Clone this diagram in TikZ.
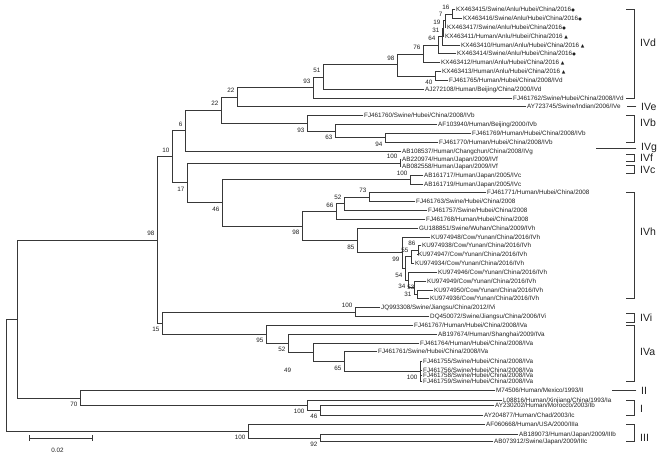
\documentclass[tikz,border=0pt]{standalone}
\usepackage{fontspec}
\setmainfont{Liberation Sans}
\newfontfamily\symfont{DejaVu Sans}
\newcommand\mkcirc{\kern0.4pt{\symfont\fontsize{4}{4}\selectfont ●}}
\newcommand\mktri{\kern1.6pt{\symfont\fontsize{4.6}{4.6}\selectfont ▲}}
\begin{document}
\begin{tikzpicture}[x=1pt,y=-1.064pt,
  br/.style={draw=black!78, line width=0.6pt, line cap=rect},
  leaf/.style={anchor=west, inner xsep=1pt, inner ysep=0pt, text height=4.5pt, text depth=0pt,
    font=\fontsize{6.3}{7}\selectfont, text=black!88},
  bsbase/.style={anchor=east, inner sep=0pt, text height=4.5pt, text depth=0pt,
    font=\fontsize{6.3}{7}\selectfont, text=black!88, xshift=-2.5pt},
  bsu/.style={bsbase, yshift=6.5pt},
  bsl/.style={bsbase, yshift=-6.5pt},
  clade/.style={anchor=west, inner sep=0pt, font=\fontsize{10.5}{12}\selectfont, text=black!88},
]
\useasboundingbox (0,0) rectangle (669,438.9);

% ---------- internal nodes ----------
\coordinate (root) at (6,352.35);
\coordinate (nA) at (17,299.7);
\coordinate (nIV) at (157,225.4);
\coordinate (n10) at (172,147.2);
\coordinate (n6) at (185,122.7);
\coordinate (n22l) at (221,103.5);
\coordinate (n22u) at (237,91.2);
\coordinate (n93d) at (313,82.2);
\coordinate (n51) at (323,72.3);
\coordinate (n98d) at (397,60.9);
\coordinate (n76) at (423,50.6);
\coordinate (n64) at (438,42.5);
\coordinate (n31) at (442,34.4);
\coordinate (n19) at (443,26.6);
\coordinate (n7) at (445,19.4);
\coordinate (n16) at (452,13.15);
\coordinate (n40) at (435,71.25);
\coordinate (n93b) at (307,115.9);
\coordinate (n63) at (335,123.1);
\coordinate (n94) at (385,129.35);
\coordinate (n17) at (187,171.75);
\coordinate (nIVf) at (400,153.05);
\coordinate (n46) at (222,190.5);
\coordinate (nIVc) at (410,168.65);
\coordinate (n98h) at (302,212.3);
\coordinate (n66) at (336,198.7);
\coordinate (n52h) at (344,191.5);
\coordinate (n73) at (369,185.25);
\coordinate (n85) at (357,225.85);
\coordinate (n99) at (402,237.4);
\coordinate (n54) at (405,252.2);
\coordinate (n55) at (411,241.3);
\coordinate (n86) at (418,235.05);
\coordinate (n34) at (408,263.05);
\coordinate (n53) at (414,270.3);
\coordinate (n31h) at (417,276.55);
\coordinate (n15) at (162,303.6);
\coordinate (nIVi) at (355,293.15);
\coordinate (n95) at (266,314);
\coordinate (n52a) at (288,322.4);
\coordinate (nQ) at (313,330.95);
\coordinate (n65) at (344,339.7);
\coordinate (n100a) at (420,348.85);
\coordinate (n70) at (80,374);
\coordinate (n100I) at (307,380.8);
\coordinate (n46I) at (320,385.5);
\coordinate (nIII) at (248,405);
\coordinate (n92) at (320,411.5);

% ---------- leaves ----------
\node[leaf] (L1) at (455,9) {KX463415/Swine/Anlu/Hubei/China/2016\mkcirc};
\node[leaf] (L2) at (462,17.3) {KX463416/Swine/Anlu/Hubei/China/2016\mkcirc};
\node[leaf] (L3) at (446,25.6) {KX463417/Swine/Anlu/Hubei/China/2016\mkcirc};
\node[leaf] (L4) at (444,33.9) {KX463411/Human/Anlu/Hubei/China/2016\mktri};
\node[leaf] (L5) at (460,42.2) {KX463410/Human/Anlu/Hubei/China/2016\mktri};
\node[leaf] (L6) at (456,50.5) {KX463414/Swine/Anlu/Hubei/China/2016\mkcirc};
\node[leaf] (L7) at (440,58.8) {KX463412/Human/Anlu/Hubei/China/2016\mktri};
\node[leaf] (L8) at (441,67.1) {KX463413/Human/Anlu/Hubei/China/2016\mktri};
\node[leaf] (L9) at (448,75.4) {FJ461765/Human/Hubei/China/2008/IVd};
\node[leaf] (L10) at (424,83.7) {AJ272108/Human/Beijing/China/2000/IVd};
\node[leaf] (L11) at (512,92) {FJ461762/Swine/Hubei/China/2008/IVd};
\node[leaf] (L12) at (526,100.3) {AY723745/Swine/Indian/2006/IVe};
\node[leaf] (L13) at (363,108.6) {FJ461760/Swine/Hubei/China/2008/IVb};
\node[leaf] (L14) at (437,116.9) {AF103940/Human/Beijing/2000/IVb};
\node[leaf] (L15) at (471,125.2) {FJ461769/Human/Hubei/China/2008/IVb};
\node[leaf] (L16) at (438,133.5) {FJ461770/Human/Hubei/China/2008/IVb};
\node[leaf] (L17) at (401,141.8) {AB108537/Human/Changchun/China/2008/IVg};
\node[leaf] (L18) at (401,150.1) {AB220974/Human/Japan/2009/IVf};
\node[leaf] (L19) at (401,156) {AB082558/Human/Japan/2009/IVf};
\node[leaf] (L20) at (423,164.5) {AB161717/Human/Japan/2005/IVc};
\node[leaf] (L21) at (423,172.8) {AB161719/Human/Japan/2005/IVc};
\node[leaf] (L22) at (486,181.1) {FJ461771/Human/Hubei/China/2008};
\node[leaf] (L23) at (415,189.4) {FJ461763/Swine/Hubei/China/2008};
\node[leaf] (L24) at (427,197.7) {FJ461757/Swine/Hubei/China/2008};
\node[leaf] (L25) at (425,206) {FJ461768/Human/Hubei/China/2008};
\node[leaf] (L26) at (418,214.3) {GU188851/Swine/Wuhan/China/2009/IVh};
\node[leaf] (L27) at (430,222.6) {KU974948/Cow/Yunan/China/2016/IVh};
\node[leaf] (L28) at (421,230.9) {KU974938/Cow/Yunan/China/2016/IVh};
\node[leaf] (L29) at (417,239.2) {KU974947/Cow/Yunan/China/2016/IVh};
\node[leaf] (L30) at (414,247.5) {KU974934/Cow/Yunan/China/2016/IVh};
\node[leaf] (L31) at (437,255.8) {KU974946/Cow/Yunan/China/2016/IVh};
\node[leaf] (L32) at (426,264.1) {KU974949/Cow/Yunan/China/2016/IVh};
\node[leaf] (L33) at (433,272.4) {KU974950/Cow/Yunan/China/2016/IVh};
\node[leaf] (L34) at (429,280.7) {KU974936/Cow/Yunan/China/2016/IVh};
\node[leaf] (L35) at (380,289) {JQ993308/Swine/Jiangsu/China/2012/IVi};
\node[leaf] (L36) at (429,297.3) {DQ450072/Swine/Jiangsu/China/2006/IVi};
\node[leaf] (L37) at (413,305.6) {FJ461767/Human/Hubei/China/2008/IVa};
\node[leaf] (L38) at (437,313.9) {AB197674/Human/Shanghai/2009/IVa};
\node[leaf] (L39) at (419,322.2) {FJ461764/Human/Hubei/China/2008/IVa};
\node[leaf] (L40) at (377,330.5) {FJ461761/Swine/Hubei/China/2008/IVa};
\node[leaf] (L41) at (422,339.5) {FJ461755/Swine/Hubei/China/2008/IVa};
\node[leaf] (L42) at (422,347.8) {FJ461756/Swine/Hubei/China/2008/IVa};
\node[leaf] (L43) at (422,353) {FJ461758/Swine/Hubei/China/2008/IVa};
\node[leaf] (L44) at (422,358.2) {FJ461759/Swine/Hubei/China/2008/IVa};
\node[leaf] (L45) at (495,367) {M74506/Human/Mexico/1993/II};
\node[leaf] (L46) at (502,376) {L08816/Human/Xinjiang/China/1993/Ia};
\node[leaf] (L47) at (494,381) {AY230202/Human/Morocco/2003/Ib};
\node[leaf] (L48) at (483,390) {AY204877/Human/Chad/2003/Ic};
\node[leaf] (L49) at (485,399) {AF060668/Human/USA/2000/IIIa};
\node[leaf] (L50) at (518,408.5) {AB189073/Human/Japan/2009/IIIb};
\node[leaf] (L51) at (493,414.5) {AB073912/Swine/Japan/2009/IIIc};

% ---------- branches between internal nodes ----------
\foreach \p/\c in {root/nA, root/nIII, nA/nIV, nA/n70, nIV/n10, nIV/n15, n10/n6, n10/n17,
  n6/n22l, n22l/n22u, n22l/n93b, n22u/n93d, n93d/n51, n51/n98d, n98d/n76, n98d/n40,
  n76/n64, n64/n31, n31/n19, n19/n7, n7/n16, n93b/n63, n63/n94, n17/nIVf, n17/n46,
  n46/nIVc, n46/n98h, n98h/n66, n98h/n85, n66/n52h, n52h/n73, n85/n99, n99/n54,
  n54/n55, n54/n34, n55/n86, n34/n53, n53/n31h, n15/nIVi, n15/n95, n95/n52a,
  n52a/nQ, nQ/n65, n65/n100a, n70/n100I, n100I/n46I, nIII/n92}
  \draw[br] (\p) |- (\c);

% ---------- branches to leaves ----------
\foreach \p/\c in {n16/L1, n16/L2, n7/L3, n19/L4, n31/L5, n64/L6, n76/L7, n40/L8, n40/L9,
  n51/L10, n93d/L11, n22u/L12, n93b/L13, n63/L14, n94/L15, n94/L16, n6/L17,
  nIVf/L18, nIVf/L19, nIVc/L20, nIVc/L21, n73/L22, n73/L23, n52h/L24, n66/L25,
  n85/L26, n99/L27, n86/L28, n86/L29, n55/L30, n34/L31, n53/L32, n31h/L33, n31h/L34,
  nIVi/L35, nIVi/L36, n95/L37, n52a/L38, nQ/L39, n65/L40, n100a/L41, n100a/L42,
  n100a/L43, n100a/L44, n70/L45, n100I/L46, n46I/L47, n46I/L48, nIII/L49, n92/L50, n92/L51}
  \draw[br] (\p) |- (\c.west);

% ---------- bootstrap values ----------
\foreach \n/\s/\v in {n16/bsu/16, n7/bsu/7, n19/bsu/19, n31/bsu/31, n64/bsu/64, n76/bsu/76,
  n98d/bsu/98, n51/bsu/51, n93d/bsu/93, n40/bsl/40, n22u/bsu/22, n22l/bsu/22, n6/bsu/6,
  n93b/bsl/93, n63/bsl/63, n94/bsl/94, n10/bsu/10, n17/bsl/17, nIVf/bsu/100, n46/bsl/46,
  nIVc/bsu/100, n73/bsu/73, n52h/bsu/52, n66/bsu/66, n98h/bsl/98, n85/bsl/85, n86/bsu/86,
  n55/bsu/55, n99/bsl/99, n54/bsl/54, n34/bsl/34, n53/bsl/31, n31h/bsu/53, nIV/bsu/98,
  n15/bsl/15, nIVi/bsu/100, n95/bsl/95, n52a/bsl/52, n65/bsl/65, n100a/bsl/100,
  n70/bsl/70, n100I/bsl/100, n46I/bsl/46, nIII/bsl/100, n92/bsl/92}
  \node[\s] (b-\n) at (\n) {\v};
\node[bsbase, anchor=center, xshift=0pt] (b-nQ) at (290,348) {49};

% ---------- clade brackets ----------
\foreach \t/\b/\m/\lab in {9/92/40.5/IVd, 108.6/133.5/115/IVb, 145/151.5/148.5/IVf,
  155.5/163/159.5/IVc, 181.1/280.7/218/IVh, 294.5/303/299/IVi, 305.6/358.2/331/IVa,
  376/390/384/I, 399/414.5/412/III} {
  \coordinate (t-\lab) at (634,\t);
  \coordinate (b-\lab) at (634,\b);
  \draw[br] ([xshift=-8pt]t-\lab) -- (t-\lab) -- (b-\lab) -- ([xshift=-8pt]b-\lab);
  \node[clade] (c-\lab) at (640,\m) {\lab};
}
\foreach \y/\x/\lab in {100.3/627/IVe, 139.5/596/IVg, 367/612/II} {
  \coordinate (s-\lab) at (\x,\y);
  \coordinate (e-\lab) at (636,\y);
  \draw[br] (s-\lab) -- (e-\lab);
  \node[clade] (c-\lab) at (641,\y) {\lab};
}

% ---------- scale bar ----------
\coordinate (sbL) at (29,411.7);
\coordinate (sbR) at (92,411.7);
\draw[br] (sbL) -- (sbR);
\draw[br] ([yshift=2.5pt]sbL) -- ([yshift=-2.5pt]sbL);
\draw[br] ([yshift=2.5pt]sbR) -- ([yshift=-2.5pt]sbR);
\node[bsbase, anchor=center, xshift=0pt] (sbT) at (60,423.5) {0.02};
\end{tikzpicture}
\end{document}
